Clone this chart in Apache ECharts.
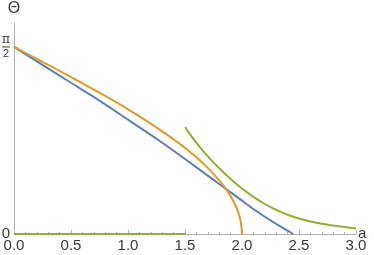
<!DOCTYPE html>
<html><head><meta charset="utf-8">
<script src="https://cdn.jsdelivr.net/npm/echarts@6/dist/echarts.min.js"></script>
<style>html,body{margin:0;padding:0;background:#fff}#c{width:374px;height:255px}</style>
</head><body><div id="c"></div>
<script>
// Blue curve (a, Θ)
const blueA = [0, 0.25, 0.5, 0.75, 1.0, 1.25, 1.5, 1.75, 1.85, 2.0, 2.1, 2.2, 2.3, 2.4, 2.45];
const blueT = [1.571, 1.42, 1.27, 1.12, 0.96, 0.80, 0.63, 0.455, 0.385, 0.28, 0.21, 0.145, 0.085, 0.028, 0];
// Orange curve
const orangeA = [0, 0.2, 0.4, 0.6, 0.8, 1.0, 1.2, 1.4, 1.5, 1.6, 1.7, 1.8, 1.85, 1.9, 1.94, 1.97, 1.99, 2.0];
const orangeT = [1.571, 1.471, 1.369, 1.266, 1.159, 1.047, 0.927, 0.795, 0.723, 0.644, 0.555, 0.451, 0.39, 0.318, 0.246, 0.173, 0.1, 0];
// Green curve: zero branch and decaying branch
const greenZeroA = [0, 1.5];
const greenZeroT = [0, 0];
const greenA = [1.5, 1.6, 1.7, 1.8, 1.9, 2.0, 2.1, 2.2, 2.3, 2.4, 2.5, 2.6, 2.7, 2.8, 2.9, 3.0];
const greenT = [0.897, 0.765, 0.652, 0.552, 0.462, 0.382, 0.312, 0.252, 0.202, 0.162, 0.130, 0.105, 0.086, 0.071, 0.058, 0.047];
// Tick labels
const xTicks = [0, 0.5, 1.0, 1.5, 2.0, 2.5, 3.0];
const yTicks = [0, Math.PI / 2];

const zip = (a, b) => a.map((v, i) => [v, b[i]]);
const axisGray = '#b4b4b4';
const txt = '#3a3a3a';

const chart = echarts.init(document.getElementById('c'), null, {renderer: 'canvas'});
chart.setOption({
  animation: false,
  backgroundColor: '#fff',
  grid: {left: 14, right: 18, top: 23, bottom: 21, containLabel: false, outerBoundsMode: 'none'},
  xAxis: {
    type: 'value', min: 0, max: 3, interval: 0.5,
    name: 'a', nameLocation: 'end', nameGap: 2, nameMoveOverlap: false,
    nameTextStyle: {fontSize: 15, color: txt, fontFamily: 'Liberation Sans', padding: [0, 0, 2, 0]},
    axisLine: {show: true, lineStyle: {color: axisGray, width: 1}},
    axisTick: {show: true, inside: true, length: 4, lineStyle: {color: axisGray}},
    minorTick: {show: true, splitNumber: 5, length: 2, lineStyle: {color: axisGray}},
    splitLine: {show: false},
    axisLabel: {
      customValues: xTicks,
      formatter: v => v.toFixed(1), fontSize: 15, color: txt, margin: 4,
      fontFamily: 'Liberation Sans'
    }
  },
  yAxis: {
    type: 'value', min: 0, max: 1.772,
    name: 'Θ', nameLocation: 'end', nameGap: 6, nameMoveOverlap: false,
    nameTextStyle: {fontSize: 16, color: txt, fontFamily: 'Liberation Sans', align: 'center'},
    axisLine: {show: true, lineStyle: {color: axisGray, width: 1}},
    axisTick: {show: true, inside: true, length: 4, customValues: yTicks, lineStyle: {color: axisGray}},
    splitLine: {show: false},
    axisLabel: {
      customValues: yTicks, margin: 4, color: txt, fontFamily: 'Liberation Sans', fontSize: 15,
      formatter: v => v < 0.1 ? '0' : '{n|π}\n{l| }\n{d|2}',
      rich: {
        n: {fontSize: 12, lineHeight: 11, align: 'center', color: txt, fontFamily: 'DejaVu Serif'},
        l: {width: 8, height: 1, lineHeight: 3, backgroundColor: '#444', fontSize: 1},
        d: {fontSize: 11, lineHeight: 11, align: 'center', color: txt, fontFamily: 'Liberation Sans'}
      }
    }
  },
  series: [
    {type: 'line', data: zip(blueA, blueT), showSymbol: false, smooth: 0.2,
     lineStyle: {color: '#5E81B5', width: 2}, itemStyle: {color: '#5E81B5'}},
    {type: 'line', data: zip(orangeA, orangeT), showSymbol: false, smooth: 0.2,
     lineStyle: {color: '#E19C24', width: 2}, itemStyle: {color: '#E19C24'}},
    {type: 'line', data: zip(greenZeroA, greenZeroT), showSymbol: false, clip: false,
     lineStyle: {color: '#8FB032', width: 2}, itemStyle: {color: '#8FB032'}},
    {type: 'line', data: zip(greenA, greenT), showSymbol: false, smooth: 0.3,
     lineStyle: {color: '#8FB032', width: 2}, itemStyle: {color: '#8FB032'}}
  ]
});
</script></body></html>
